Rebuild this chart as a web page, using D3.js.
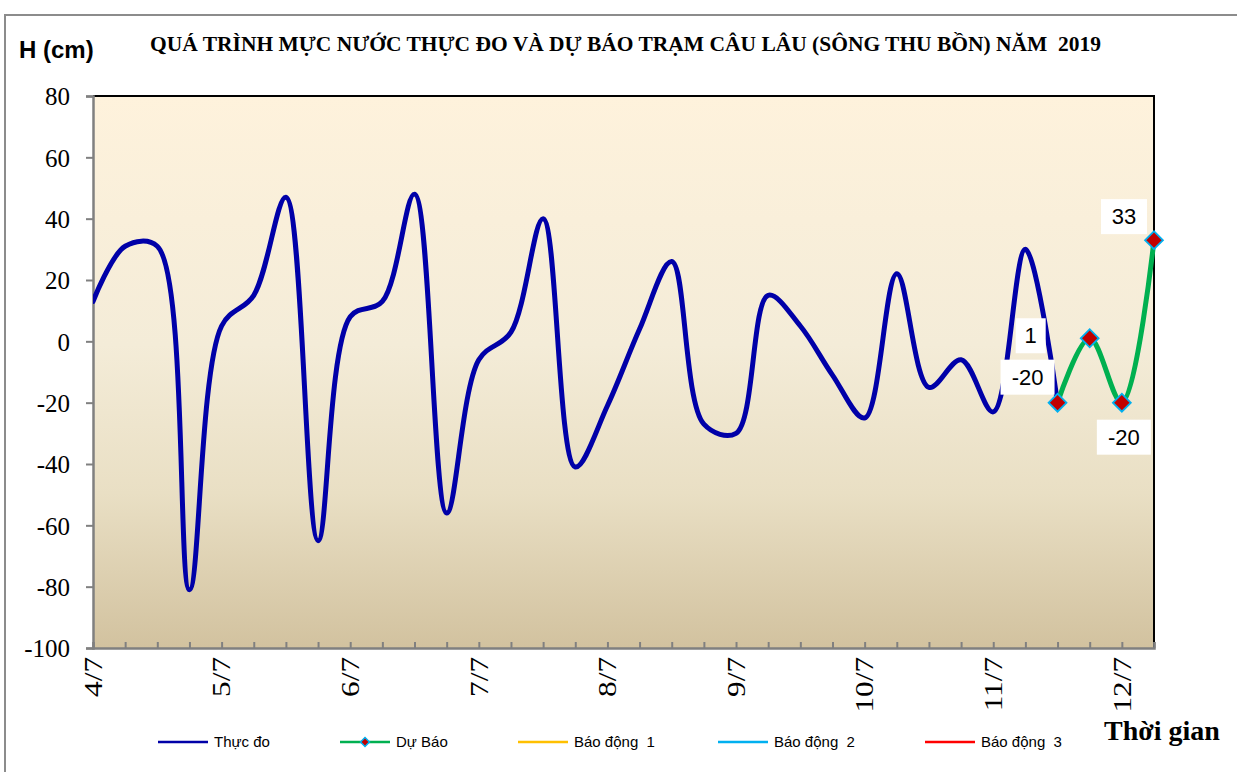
<!DOCTYPE html>
<html>
<head>
<meta charset="utf-8">
<script src="https://cdn.jsdelivr.net/npm/d3@7"></script>
<style>
  html, body { margin: 0; padding: 0; background: #ffffff; }
  svg { display: block; }
</style>
</head>
<body>
<svg id="chart" width="1237" height="772"></svg>
<script>
// ---------------- data ----------------
const categories = [
  "4/7 1h","4/7 7h","4/7 13h","4/7 19h",
  "5/7 1h","5/7 7h","5/7 13h","5/7 19h",
  "6/7 1h","6/7 7h","6/7 13h","6/7 19h",
  "7/7 1h","7/7 7h","7/7 13h","7/7 19h",
  "8/7 1h","8/7 7h","8/7 13h","8/7 19h",
  "9/7 1h","9/7 7h","9/7 13h","9/7 19h",
  "10/7 1h","10/7 7h","10/7 13h","10/7 19h",
  "11/7 1h","11/7 7h","11/7 13h","11/7 19h",
  "12/7 1h","12/7 7h"
];
const thucDo = [13, 31, 31, -81, 5, 15, 47, -65, 8, 13, 48, -56, -6, 3, 40, -41,
                -21, 4, 26, -27, -30, 15, 5, -11, -25, 22, -15, -6, -23, 30, -20];
const duBaoCategories = ["11/7 13h", "11/7 19h", "12/7 1h", "12/7 7h"];
const duBao = [-20, 1, -20, 33];
const tickCategories = ["4/7 1h","5/7 1h","6/7 1h","7/7 1h","8/7 1h","9/7 1h","10/7 1h","11/7 1h","12/7 1h"];
const tickLabels = ["4/7","5/7","6/7","7/7","8/7","9/7","10/7","11/7","12/7"];
const yTicks = [-100, -80, -60, -40, -20, 0, 20, 40, 60, 80];
const legendNames = ["Thực đo", "Dự Báo", "Báo động  1", "Báo động  2", "Báo động  3"];
const legendColors = ["#0000A8", "#00B050", "#FFC000", "#00B0F0", "#FF0000"];

// ---------------- layout ----------------
const svg = d3.select("#chart");
const L = 93, T = 96, R = 1154, B = 648;

const x = d3.scalePoint().domain(categories).range([L, R]);
const y = d3.scaleLinear().domain([-100, 80]).range([B, T]);

// outer frame
svg.append("path")
  .attr("d", `M5,772 L5,15 L1237,15`)
  .attr("fill", "none").attr("stroke", "#8c8c8c").attr("stroke-width", 2);

// background gradient
const defs = svg.append("defs");
const grad = defs.append("linearGradient").attr("id", "bg")
  .attr("x1", 0).attr("y1", 0).attr("x2", 0).attr("y2", 1);
[["0%", "#FEF2DC"], ["45%", "#F4ECD8"], ["72%", "#E9DFC4"], ["100%", "#D2C29F"]]
  .forEach(([o, c]) => grad.append("stop").attr("offset", o).attr("stop-color", c));
defs.append("clipPath").attr("id", "clip").append("rect")
  .attr("x", L).attr("y", T - 10).attr("width", R - L + 10).attr("height", B - T + 10);

svg.append("rect").attr("x", L).attr("y", T).attr("width", R - L).attr("height", B - T)
  .attr("fill", "url(#bg)");

// top + right border (black)
svg.append("path").attr("d", `M${L},${T} L${R},${T} L${R},${B}`)
  .attr("fill", "none").attr("stroke", "#000").attr("stroke-width", 2);

// y axis
const yAxis = svg.append("g").attr("transform", `translate(${L},0)`)
  .call(d3.axisLeft(y).tickValues(yTicks).tickSize(7).tickPadding(16).tickFormat(d => String(d)));
yAxis.select(".domain").attr("stroke", "#808080").attr("stroke-width", 2.5);
yAxis.selectAll(".tick line").attr("stroke", "#808080").attr("stroke-width", 2);
yAxis.selectAll(".tick text").attr("font-family", "'Liberation Serif','Times New Roman',serif")
  .attr("font-size", 25).attr("fill", "#000").attr("dy", "0.35em");

// x axis (ticks inward)
const xAxis = svg.append("g").attr("transform", `translate(0,${B})`)
  .call(d3.axisBottom(x).tickSize(-6).tickFormat(""));
xAxis.select(".domain").attr("stroke", "#808080").attr("stroke-width", 2.5);
xAxis.selectAll(".tick line").attr("stroke", "#808080").attr("stroke-width", 2);

// x tick labels (rotated)
svg.append("g").selectAll("text").data(tickCategories).join("text")
  .attr("transform", d => `translate(${x(d)},${B + 9}) rotate(-90) scale(1.25,1)`)
  .attr("text-anchor", "end").attr("dy", "0.35em")
  .attr("font-family", "'Liberation Serif','Times New Roman',serif")
  .attr("font-size", 25).attr("fill", "#000")
  .text((d, i) => tickLabels[i]);

// lines
const plot = svg.append("g").attr("clip-path", "url(#clip)");
const line = d3.line().x(d => x(d.c)).y(d => y(d.v)).curve(d3.curveCatmullRom.alpha(0.5));
const obs = thucDo.map((v, i) => ({ c: categories[i], v }));
const fc = duBao.map((v, i) => ({ c: duBaoCategories[i], v }));

plot.append("path").datum(obs).attr("d", line)
  .attr("fill", "none").attr("stroke", legendColors[0]).attr("stroke-width", 5)
  .attr("stroke-linejoin", "round").attr("stroke-linecap", "round");

plot.append("path").datum(fc).attr("d", line)
  .attr("fill", "none").attr("stroke", legendColors[1]).attr("stroke-width", 5)
  .attr("stroke-linejoin", "round").attr("stroke-linecap", "round");

svg.append("g").selectAll("path").data(fc).join("path")
  .attr("d", d3.symbol().type(d3.symbolSquare).size(160))
  .attr("transform", d => `translate(${x(d.c)},${y(d.v)}) rotate(45)`)
  .attr("fill", "#C00000").attr("stroke", "#00B0F0").attr("stroke-width", 1.8);

// data labels (white boxes) - box centre offset from its point
const labelOffsets = [[-30, -26], [-59, -3], [2, 34], [-30, -24]];
const lbl = svg.append("g").selectAll("g").data(fc).join("g")
  .attr("transform", (d, i) => `translate(${x(d.c) + labelOffsets[i][0]},${y(d.v) + labelOffsets[i][1]})`);
lbl.each(function (d) {
  const g = d3.select(this);
  const txt = String(d.v);
  const w = txt.length === 1 ? 30 : (txt.length === 2 ? 46 : 54);
  g.append("rect").attr("x", -w / 2).attr("y", -17).attr("width", w).attr("height", 35).attr("fill", "#fff");
  g.append("text").attr("text-anchor", "middle").attr("dy", "0.36em")
    .attr("font-family", "'Liberation Sans',Arial,sans-serif").attr("font-size", 22).attr("fill", "#000")
    .text(txt);
});

// title
svg.append("text").attr("x", 150).attr("y", 51)
  .attr("font-family", "'Liberation Serif','Times New Roman',serif").attr("font-weight", "bold")
  .attr("font-size", 20).attr("textLength", 951).attr("lengthAdjust", "spacingAndGlyphs")
  .style("white-space", "pre")
  .text("QUÁ TRÌNH MỰC NƯỚC THỰC ĐO VÀ DỰ BÁO TRẠM CÂU LÂU (SÔNG THU BỒN) NĂM  2019");

// y axis title
svg.append("text").attr("x", 19).attr("y", 58)
  .attr("font-family", "'Liberation Sans',Arial,sans-serif").attr("font-weight", "bold")
  .attr("font-size", 24).text("H (cm)");

// x axis title
svg.append("text").attr("x", 1104).attr("y", 740)
  .attr("font-family", "'Liberation Serif','Times New Roman',serif").attr("font-weight", "bold")
  .attr("font-size", 28).text("Thời gian");

// legend
const legendX = [158, 340, 518, 718, 925];
const lg = svg.append("g").selectAll("g").data(legendNames).join("g")
  .attr("transform", (d, i) => `translate(${legendX[i]},742)`);
lg.append("line").attr("x1", 0).attr("x2", 50).attr("y1", 0).attr("y2", 0)
  .attr("stroke", (d, i) => legendColors[i]).attr("stroke-width", 2.5);
lg.filter((d, i) => i === 1).append("path")
  .attr("d", d3.symbol().type(d3.symbolSquare).size(40))
  .attr("transform", "translate(25,0) rotate(45)")
  .attr("fill", "#C00000").attr("stroke", "#00B0F0").attr("stroke-width", 1.5);
lg.append("text").attr("x", 56).attr("dy", "0.35em")
  .attr("font-family", "'Liberation Sans',Arial,sans-serif").attr("font-size", 15)
  .attr("fill", "#000").style("white-space", "pre")
  .text(d => d);
</script>
</body>
</html>
